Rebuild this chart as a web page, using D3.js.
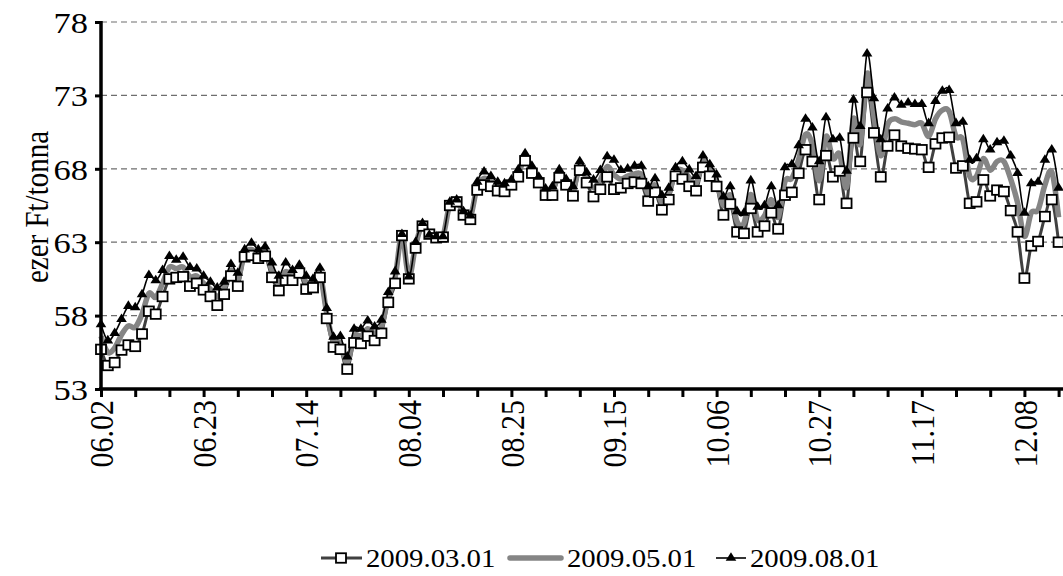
<!DOCTYPE html>
<html><head><meta charset="utf-8">
<script src="https://cdn.jsdelivr.net/npm/d3@7"></script>
<style>body{margin:0;background:#fff}svg{display:block;background:#fff}</style>
</head><body>
<svg id="chart" width="1063" height="576"></svg>
<script>
const seriesNames = ["2009.03.01", "2009.05.01", "2009.08.01"];
const s0903 = [55.7,54.6,54.8,55.65,56.0,55.9,56.75,58.3,58.1,59.3,60.5,60.6,60.65,60.0,60.2,59.75,59.3,58.7,59.45,60.7,
  60.0,62.0,62.1,61.9,62.05,60.6,59.7,60.4,60.4,60.9,59.8,59.9,60.6,57.8,55.85,55.7,54.35,56.15,56.1,56.6,
  56.3,56.8,58.9,60.2,63.45,60.5,62.6,64.1,63.55,63.3,63.35,65.5,65.75,64.85,64.55,66.55,66.9,66.8,66.5,66.45,
  66.9,67.45,68.55,67.7,67.05,66.2,66.2,67.4,66.9,66.15,67.9,67.05,66.1,66.6,67.45,66.6,66.7,67.0,67.1,67.0,
  65.8,66.4,65.2,65.9,67.5,67.3,66.8,66.5,68.1,67.5,66.8,64.85,65.6,63.7,63.6,65.3,63.7,64.1,65.0,63.9,
  66.2,66.4,67.7,69.3,68.5,65.9,68.9,67.45,67.85,65.65,70.1,68.5,73.2,70.45,67.45,69.55,70.3,69.55,69.4,69.35,
  69.3,68.1,69.7,70.1,70.15,68.05,68.2,65.65,65.75,67.25,66.15,66.55,66.45,65.15,63.7,60.55,62.75,63.05,64.75,65.9,
  63.0];
const s0905 = [56.6,55.5,55.8,56.7,57.3,57.2,58.1,59.5,59.25,60.2,61.3,61.2,61.3,60.65,60.7,60.2,59.8,59.3,59.9,61.1,
  60.45,62.25,62.5,62.2,62.4,61.1,60.2,61.0,60.75,61.2,60.25,60.2,60.9,58.15,56.2,56.15,54.8,56.6,56.6,57.1,
  56.8,57.25,59.25,60.6,63.5,60.6,62.8,64.2,63.5,63.35,63.4,65.6,65.8,65.0,64.7,66.8,67.35,67.15,66.8,66.7,
  67.1,67.7,68.8,67.95,67.25,66.4,66.5,67.7,67.1,66.5,68.2,67.4,66.7,67.25,68.15,67.6,67.3,67.5,67.65,67.6,
  66.3,66.9,65.7,66.3,67.8,67.9,67.4,67.0,68.5,67.9,67.2,65.5,66.2,64.4,64.3,66.25,64.55,64.8,65.9,64.7,
  67.15,67.35,68.65,70.35,69.65,67.2,70.2,68.7,69.0,66.75,71.4,69.7,74.5,71.6,68.9,71.0,71.4,71.2,71.1,71.0,
  71.1,70.2,71.4,72.0,71.9,70.2,70.0,67.5,67.5,68.7,67.9,68.5,68.5,67.3,65.7,63.4,65.0,65.2,66.9,67.8,
  64.7];
const s0908 = [57.4,56.3,56.8,57.75,58.65,58.55,59.45,60.75,60.4,61.1,62.05,61.8,62.0,61.3,61.2,60.7,60.3,59.9,60.3,61.5,
  60.9,62.5,62.95,62.5,62.7,61.6,60.7,61.6,61.1,61.45,60.7,60.5,61.25,58.5,56.55,56.6,55.2,57.1,57.1,57.65,
  57.25,57.7,59.6,61.0,63.55,60.65,63.0,64.3,63.5,63.4,63.4,65.75,65.9,65.1,64.8,67.1,67.8,67.5,67.1,67.0,
  67.25,67.95,69.05,68.2,67.45,66.65,66.8,67.95,67.3,66.8,68.5,67.75,67.25,67.9,68.85,68.6,67.9,68.0,68.2,68.2,
  66.8,67.35,66.2,66.7,68.1,68.5,67.95,67.5,68.9,68.3,67.6,66.1,66.8,65.1,65.0,67.2,65.4,65.5,66.8,65.5,
  68.1,68.3,69.6,71.4,70.8,68.5,71.5,70.0,70.1,67.85,72.7,70.9,75.85,72.8,70.0,72.1,72.85,72.35,72.5,72.4,
  72.4,71.1,72.6,73.3,73.35,71.1,71.2,68.6,68.7,70.0,69.3,69.8,69.9,68.9,67.7,65.0,67.0,67.1,68.6,69.3,
  66.7];
const tickLabels = ["06.02","06.23","07.14","08.04","08.25","09.15","10.06","10.27","11.17","12.08"];
const labelEvery = 15;
const tickEvery = 5;
const yTicks = [53, 58, 63, 68, 73, 78];

(function () {
const svg = d3.select("#chart");
const W = 1063;
const mLeft = 101, mTop = 22, mBottom = 389;
const step = 6.84;
const nSlots = 141;
const sx = 1.15; // horizontal stretch of the original text

const x = d3.scaleLinear().domain([0, nSlots]).range([mLeft, mLeft + nSlots * step]);
const y = d3.scaleLinear().domain([53, 78]).range([mBottom, mTop]);

const serif = "'Liberation Serif','Times New Roman',serif";

// gridlines
svg.append("g").selectAll("line").data(yTicks.slice(1)).join("line")
  .attr("x1", mLeft).attr("x2", W).attr("y1", d => y(d)).attr("y2", d => y(d))
  .attr("stroke", "#6e6e6e").attr("stroke-width", 1.2).attr("stroke-dasharray", "6,4");

// series lines
const curve = d3.curveCardinal.tension(0);
const line = d3.line().x((d, i) => x(i)).y(d => y(d)).curve(curve);
const styles = [
  {data: s0903, stroke: "#404040", width: 3},
  {data: s0905, stroke: "#858585", width: 5.5},
  {data: s0908, stroke: "#000", width: 1.6}
];
const plot = svg.append("g");
styles.forEach(s => {
  plot.append("path").attr("d", line(s.data)).attr("fill", "none")
    .attr("stroke", s.stroke).attr("stroke-width", s.width).attr("stroke-linejoin", "round");
});
// markers
plot.append("g").selectAll("rect").data(s0903).join("rect")
  .attr("x", (d, i) => x(i) - 5).attr("y", d => y(d) - 4.75)
  .attr("width", 10).attr("height", 9.5)
  .attr("fill", "#fff").attr("stroke", "#000").attr("stroke-width", 1.8);
const tri = d3.symbol(d3.symbolTriangle, 42);
plot.append("g").selectAll("path").data(s0908).join("path")
  .attr("transform", (d, i) => `translate(${x(i)},${y(d)}) scale(1.08,1)`)
  .attr("d", tri).attr("fill", "#000");

// axes
const yAxis = d3.axisLeft(y).tickValues(yTicks).tickSize(6).tickFormat(d3.format("d"));
const gy = svg.append("g").attr("transform", `translate(${mLeft},0)`).call(yAxis);
gy.select(".domain").attr("stroke-width", 3.5).attr("d", `M0,${mTop - 1}V${mBottom + 1}`);
gy.selectAll(".tick line").attr("stroke-width", 3);
gy.selectAll("text").attr("font-family", serif).attr("font-size", 30).attr("fill", "#000")
  .attr("x", 0).attr("dy", "0.34em").attr("text-anchor", "end")
  .attr("transform", `translate(-13,0) scale(${sx},1)`);

const xAxis = d3.axisBottom(x).tickValues(d3.range(0, nSlots, tickEvery)).tickSize(8)
  .tickFormat(i => i % labelEvery === 0 ? tickLabels[i / labelEvery] : "");
const gx = svg.append("g").attr("transform", `translate(0,${mBottom})`).call(xAxis);
gx.select(".domain").attr("stroke-width", 3.5).attr("d", `M${mLeft - 2},0H${W}`);
gx.selectAll(".tick line").attr("stroke-width", 3);
gx.selectAll("text").attr("font-family", serif).attr("font-size", 30).attr("fill", "#000")
  .attr("transform", `translate(0,11) scale(${sx},1) rotate(-90)`).attr("text-anchor", "end")
  .attr("x", 0).attr("y", 0).attr("dy", "0.34em");

// y title
svg.append("text").attr("transform", `translate(38,207) scale(${sx},1) rotate(-90)`)
  .attr("text-anchor", "middle").attr("dy", "0.3em").attr("font-family", serif).attr("font-size", 29)
  .text("ezer Ft/tonna");

// legend
const lg = svg.append("g").attr("font-family", serif).attr("font-size", 25);
const ly = 558, lb = 567;
const addText = (xx, t) => lg.append("text").attr("transform", `translate(${xx},${lb}) scale(${sx},1)`).text(t);
lg.append("line").attr("x1", 321).attr("x2", 362).attr("y1", ly).attr("y2", ly).attr("stroke", "#404040").attr("stroke-width", 3);
lg.append("rect").attr("x", 336).attr("y", ly - 4.75).attr("width", 10).attr("height", 9.5).attr("fill", "#fff").attr("stroke", "#000").attr("stroke-width", 1.8);
addText(366, seriesNames[0]);
lg.append("line").attr("x1", 510).attr("x2", 561).attr("y1", ly).attr("y2", ly).attr("stroke", "#858585").attr("stroke-width", 5.5).attr("stroke-linecap", "round");
addText(567, seriesNames[1]);
lg.append("line").attr("x1", 716).attr("x2", 746).attr("y1", ly).attr("y2", ly).attr("stroke", "#000").attr("stroke-width", 1.6);
lg.append("path").attr("transform", `translate(731,${ly}) scale(1.08,1)`).attr("d", tri).attr("fill", "#000");
addText(750, seriesNames[2]);
})();
</script>
</body></html>
